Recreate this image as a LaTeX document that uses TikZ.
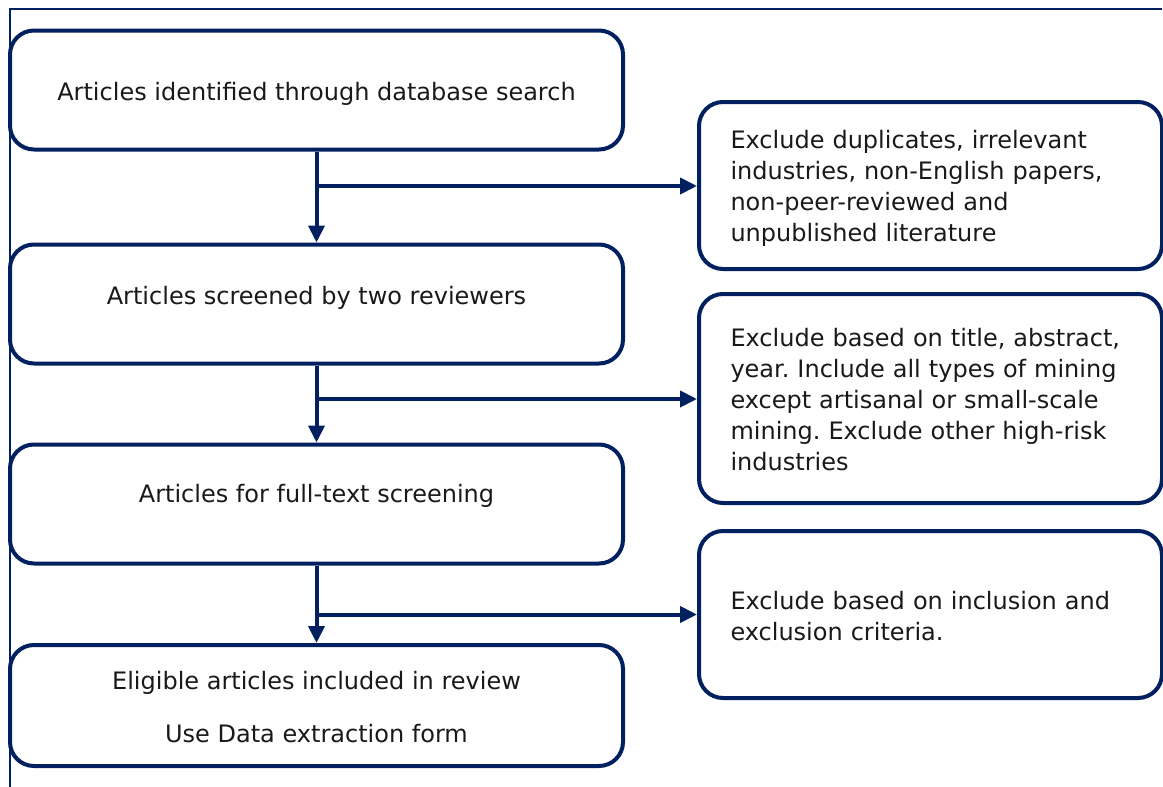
\documentclass[tikz,border=0pt]{standalone}
\usepackage{fontspec}
\setmainfont{DejaVu Sans}
\usetikzlibrary{arrows.meta}
\definecolor{navy}{RGB}{0,32,96}
\frenchspacing
\begin{document}
\begin{tikzpicture}[x=1pt,y=-1pt,
  box/.style={draw=navy, line width=4pt, rounded corners=24pt, inner sep=0pt},
  mainbox/.style={box, minimum width=613pt, minimum height=119pt},
  sidebox/.style={box, minimum width=463pt},
  maintext/.style={align=center, font=\fontsize{24}{31}\selectfont, text=black!90, inner sep=0pt},
  sidetext/.style={align=left, text width=400pt, font=\fontsize{24}{31}\selectfont, text=black!90, inner sep=0pt},
  flow/.style={draw=navy, line width=4pt, -{Triangle[length=17pt,width=16pt]}},
  frameline/.style={draw=navy, line width=1.6pt}
]
\useasboundingbox (0,0) rectangle (1163,787);
\draw[frameline] (1162,9) -- (10,9) -- (10,787);

\node[mainbox] (a) at (316.5,90) {};
\node[mainbox] (b) at (316.5,304) {};
\node[mainbox] (c) at (316.5,504) {};
\node[mainbox, minimum height=121pt] (d) at (316.5,705.5) {};
\node[maintext] (ta) at ([yshift=-4pt]a.center) {Articles identified through database search};
\node[maintext] (tb) at ([yshift=6pt]b.center) {Articles screened by two reviewers};
\node[maintext] (tc) at ([yshift=8pt]c.center) {Articles for full-text screening};
\node[maintext] (td) at ([yshift=-2pt]d.center) {Eligible articles included in review\\[22pt]Use Data extraction form};

\node[sidebox, minimum height=167pt] (r1) at (930.5,185.5) {};
\node[sidebox, minimum height=209pt] (r2) at (930.5,398.5) {};
\node[sidebox, minimum height=167pt] (r3) at (930.5,614.5) {};
\node[sidetext] (t1) at ([yshift=-3pt]r1.center) {Exclude duplicates, irrelevant\\industries, non-English papers,\\non-peer-reviewed and\\unpublished literature};
\node[sidetext] (t2) at ([yshift=-1pt]r2.center) {Exclude based on title, abstract,\\year. Include all types of mining\\except artisanal or small-scale\\mining. Exclude other high-risk\\industries};
\node[sidetext] (t3) at ([yshift=-2pt]r3.center) {Exclude based on inclusion and\\exclusion criteria.};

\draw[flow] (a.south) -- (b.north);
\draw[flow] (b.south) -- (c.north);
\draw[flow] (c.south) -- (d.north);

\coordinate (j1) at (316.5,186);
\coordinate (j2) at (316.5,399);
\coordinate (j3) at (316.5,614.5);
\draw[flow] (j1) -- (j1 -| r1.west);
\draw[flow] (j2) -- (j2 -| r2.west);
\draw[flow] (j3) -- (j3 -| r3.west);
\end{tikzpicture}
\end{document}
